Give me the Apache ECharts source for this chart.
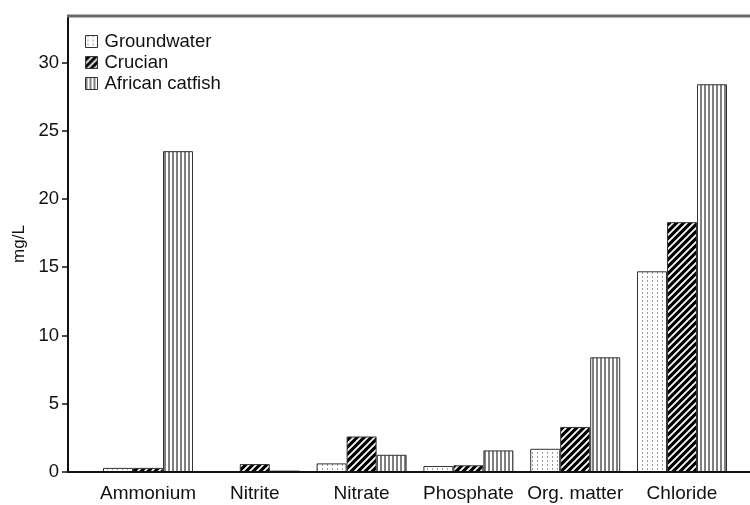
<!DOCTYPE html>
<html>
<head>
<meta charset="utf-8">
<script src="https://cdn.jsdelivr.net/npm/echarts@6/dist/echarts.min.js"></script>
<style>html,body{margin:0;padding:0;background:#fff;}#c{width:750px;height:505px;}</style>
</head>
<body>
<div id="c"></div>
<script>
const categories = ['Ammonium', 'Nitrite', 'Nitrate', 'Phosphate', 'Org. matter', 'Chloride'];
const groundwater = [0.3, 0.05, 0.63, 0.44, 1.7, 14.7];
const crucian = [0.3, 0.58, 2.6, 0.49, 3.3, 18.3];
const catfish = [23.5, 0.1, 1.26, 1.58, 8.4, 28.4];
const seriesNames = ['Groundwater', 'Crucian', 'African catfish'];
const yMin = 0, yMax = 33.4, yInterval = 5;

function pattern(w, h, draw) {
  const c = document.createElement('canvas');
  c.width = w; c.height = h;
  const g = c.getContext('2d');
  draw(g, w, h);
  return { image: c, repeat: 'repeat' };
}
const dotPat = pattern(5, 4, (g, w, h) => {
  g.fillStyle = '#fff'; g.fillRect(0, 0, w, h);
  g.fillStyle = '#9a9a9a'; g.fillRect(2, 0, 1, 2);
});
const hatchPat = pattern(7, 7, (g, w, h) => {
  g.fillStyle = '#000'; g.fillRect(0, 0, w, h);
  g.strokeStyle = '#fff'; g.lineWidth = 1.8;
  g.beginPath();
  g.moveTo(-1, 8); g.lineTo(8, -1);
  g.moveTo(-4.5, 4.5); g.lineTo(4.5, -4.5);
  g.moveTo(2.5, 11.5); g.lineTo(11.5, 2.5);
  g.stroke();
});
const vertPat = pattern(4, 4, (g, w, h) => {
  g.fillStyle = '#fff'; g.fillRect(0, 0, w, h);
  g.fillStyle = '#808080'; g.fillRect(0, 0, 2, h);
});

const gridLeft = 94.6, gridRight = 14.6, gridTop = 16, gridBottom = 33, yOffset = 26.6;
const font = 'Liberation Sans, Arial, sans-serif';
const chart = echarts.init(document.getElementById('c'), null, { renderer: 'canvas' });
const mk = (name, data, col) => ({
  name, type: 'bar', data, barWidth: 30, barGap: '0%',
  itemStyle: { color: col, borderColor: '#333', borderWidth: 1 },
  emphasis: { disabled: true }
});
chart.setOption({
  animation: false,
  backgroundColor: '#fff',
  grid: { left: gridLeft, right: gridRight, top: gridTop, bottom: gridBottom },
  legend: {
    orient: 'vertical', left: 80, top: 27, itemWidth: 12, itemHeight: 12, itemGap: 2,
    icon: 'rect', data: seriesNames,
    textStyle: { fontFamily: font, fontSize: 18.5, color: '#111', padding: [0, 0, 0, 2] },
    itemStyle: { borderColor: '#333', borderWidth: 1 }
  },
  xAxis: {
    type: 'category', data: categories,
    axisLine: { show: false },
    axisTick: { alignWithLabel: true, length: 6, lineStyle: { color: '#111', width: 1.5 } },
    axisLabel: { interval: 0, fontFamily: font, fontSize: 19, color: '#111', margin: 12 }
  },
  yAxis: {
    type: 'value', min: yMin, max: yMax, interval: yInterval, offset: yOffset,
    name: 'mg/L', nameLocation: 'middle', nameGap: 40, nameRotate: 90,
    nameTextStyle: { fontFamily: font, fontSize: 17, color: '#111' },
    splitLine: { show: false },
    axisLine: { show: true, lineStyle: { color: '#111', width: 2 } },
    axisTick: { show: true, length: 6, lineStyle: { color: '#111', width: 1.5 } },
    axisLabel: { fontFamily: font, fontSize: 18.5, color: '#111', margin: 9, showMaxLabel: false }
  },
  series: [mk(seriesNames[0], groundwater, dotPat), mk(seriesNames[1], crucian, hatchPat), mk(seriesNames[2], catfish, vertPat)]
});
const yBase = chart.convertToPixel({ yAxisIndex: 0 }, 0);
const yTopPx = chart.convertToPixel({ yAxisIndex: 0 }, yMax);
const xLeft = gridLeft - yOffset, xRight = chart.getWidth();
chart.setOption({
  graphic: [
    { type: 'line', shape: { x1: xLeft, y1: yBase, x2: xRight, y2: yBase }, style: { stroke: '#111', lineWidth: 2 }, z: 10 },
    { type: 'line', shape: { x1: xLeft - 1, y1: yTopPx, x2: xRight, y2: yTopPx }, style: { stroke: '#6a6a6a', lineWidth: 3 }, z: 10 }
  ]
});
</script>
</body>
</html>
